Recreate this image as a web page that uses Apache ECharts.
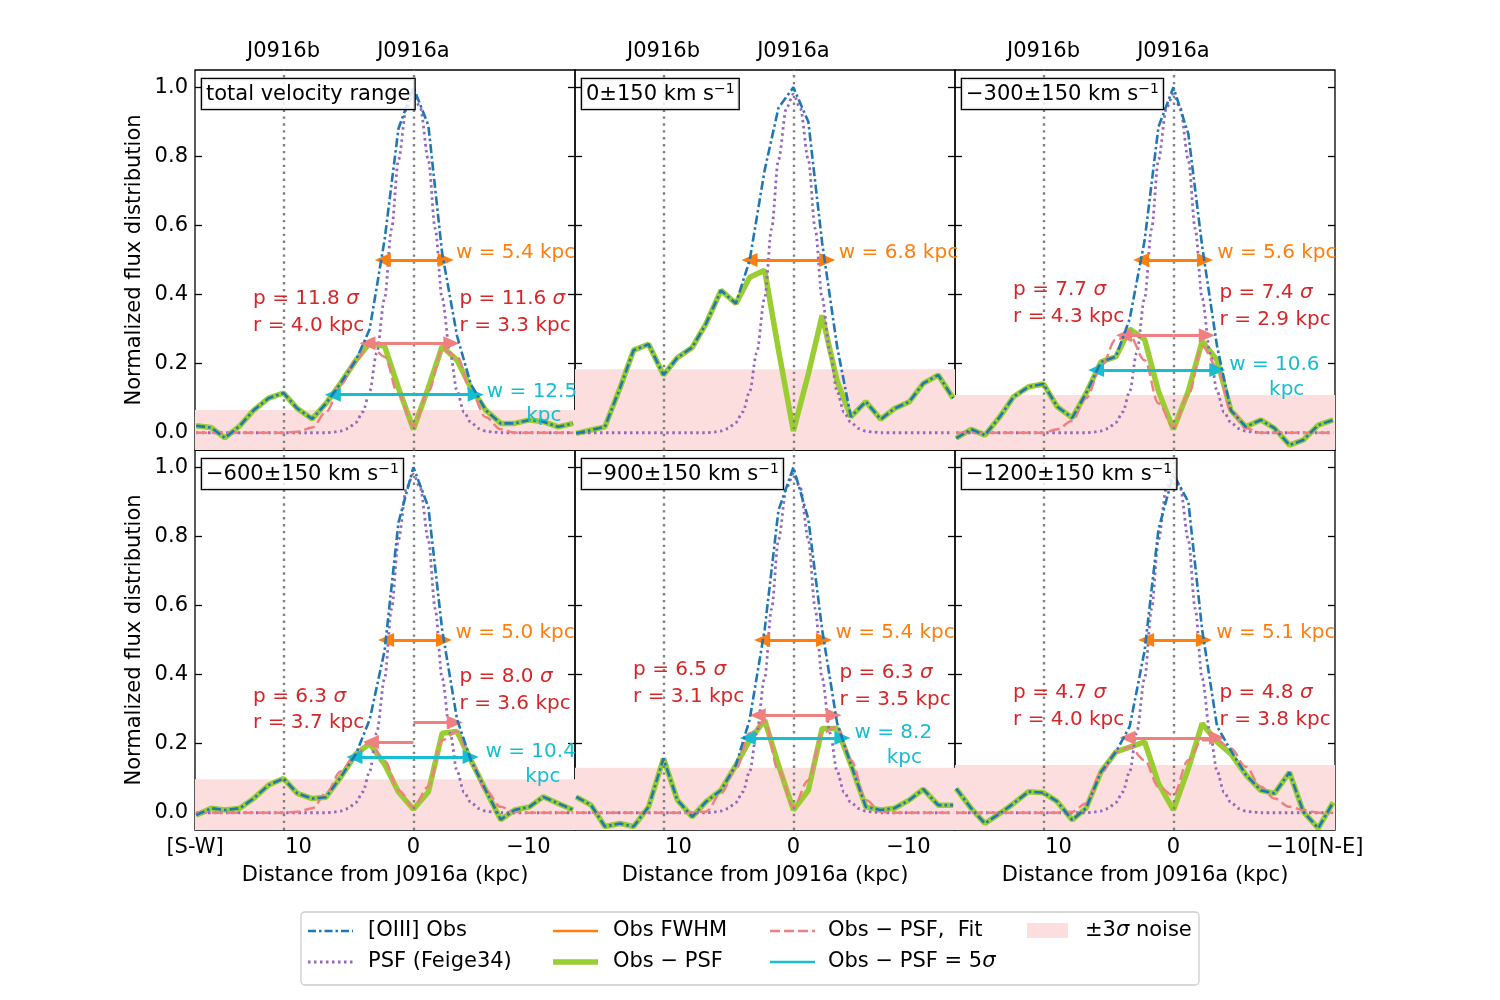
<!DOCTYPE html>
<html>
<head>
<meta charset="utf-8">
<script src="https://cdn.jsdelivr.net/npm/echarts@6/dist/echarts.min.js"></script>
<style>
html, body { margin: 0; padding: 0; background: #fff; }
#chart { width: 1500px; height: 1000px; }
</style>
</head>
<body>
<div id="chart"></div>
<script>
// sample positions along the slit (kpc from J0916a, S-W positive)
const xKpc = [18.9, 17.6, 16.4, 15.1, 13.9, 12.6, 11.3, 10.1, 8.8, 7.6, 6.3, 5.0, 3.8, 2.5, 1.3, 0,
  -1.3, -2.5, -3.8, -5.0, -6.3, -7.6, -8.8, -10.1, -11.3, -12.6, -13.9];

// PSF (Feige34), shared by all panels
const psfX = [18.9, 7.6, 6.9, 6.3, 5.7, 5.0, 4.4, 3.8, 3.2, 2.5, 1.9, 1.3, 0.6, 0, -0.6, -1.3, -1.9,
  -2.5, -3.2, -3.8, -4.4, -5.0, -5.7, -6.3, -6.9, -7.6, -13.9];
const psfY = [0, 0, 0.002, 0.005, 0.012, 0.03, 0.06, 0.12, 0.23, 0.39, 0.59, 0.79, 0.94, 0.98, 0.94,
  0.79, 0.59, 0.39, 0.23, 0.12, 0.06, 0.03, 0.012, 0.005, 0.002, 0, 0];

// [OIII] observed profiles
const obsTotal = [0.02, 0.015, -0.015, 0.02, 0.065, 0.10, 0.115, 0.07, 0.04, 0.085, 0.145, 0.21, 0.30, 0.56, 0.88, 1.0, 0.89, 0.52, 0.28, 0.14, 0.065, 0.027, 0.027, 0.037, 0.032, 0.017, 0.027];
const obsV0 = [-0.002, 0.008, 0.017, 0.128, 0.239, 0.256, 0.167, 0.217, 0.247, 0.316, 0.412, 0.374, 0.50, 0.76, 0.94, 1.0, 0.90, 0.55, 0.25, 0.046, 0.09, 0.039, 0.07, 0.09, 0.143, 0.167, 0.10];
const obsV300 = [-0.016, 0.01, -0.007, 0.046, 0.104, 0.133, 0.141, 0.075, 0.043, 0.114, 0.205, 0.22, 0.33, 0.557, 0.885, 1.0, 0.865, 0.54, 0.25, 0.065, 0.017, 0.037, 0.013, -0.036, -0.021, 0.022, 0.037];
const obsV600 = [-0.007, 0.013, 0.008, 0.013, 0.041, 0.08, 0.099, 0.056, 0.041, 0.045, 0.104, 0.17, 0.27, 0.47, 0.84, 1.0, 0.885, 0.53, 0.27, 0.152, 0.065, -0.02, 0.008, 0.017, 0.046, 0.027, 0.008];
const obsV900 = [0.046, 0.022, -0.04, -0.031, -0.04, 0.017, 0.157, 0.037, -0.012, 0.032, 0.065, 0.138, 0.27, 0.53, 0.875, 1.0, 0.85, 0.53, 0.26, 0.14, 0.017, 0.008, 0.013, 0.037, 0.068, 0.022, 0.022];
const obsV1200 = [0.07, 0.013, -0.031, -0.002, 0.027, 0.061, 0.058, 0.032, -0.021, 0.013, 0.118, 0.176, 0.25, 0.47, 0.82, 0.98, 0.90, 0.53, 0.25, 0.18, 0.11, 0.065, 0.056, 0.117, 0.003, -0.045, 0.03];

// Obs - PSF residuals
const resTotal = [0.02, 0.015, -0.015, 0.02, 0.065, 0.10, 0.115, 0.07, 0.04, 0.085, 0.145, 0.21, 0.26, 0.25, 0.13, 0.01, 0.13, 0.25, 0.21, 0.13, 0.065, 0.027, 0.027, 0.037, 0.032, 0.017, 0.027];
const resV0 = [-0.002, 0.008, 0.017, 0.128, 0.239, 0.256, 0.167, 0.217, 0.247, 0.316, 0.412, 0.374, 0.45, 0.47, 0.24, 0.005, 0.17, 0.34, 0.15, 0.046, 0.09, 0.039, 0.07, 0.09, 0.143, 0.167, 0.10];
const resV300 = [-0.016, 0.01, -0.007, 0.046, 0.104, 0.133, 0.141, 0.075, 0.043, 0.114, 0.205, 0.22, 0.30, 0.27, 0.12, 0.01, 0.12, 0.265, 0.21, 0.065, 0.017, 0.037, 0.013, -0.036, -0.021, 0.022, 0.037];
const resV600 = [-0.007, 0.013, 0.008, 0.013, 0.041, 0.08, 0.099, 0.056, 0.041, 0.045, 0.104, 0.17, 0.20, 0.14, 0.06, 0.01, 0.06, 0.23, 0.235, 0.152, 0.065, -0.02, 0.008, 0.017, 0.046, 0.027, 0.008];
const resV900 = [0.046, 0.022, -0.04, -0.031, -0.04, 0.017, 0.157, 0.037, -0.012, 0.032, 0.065, 0.138, 0.21, 0.268, 0.138, 0.008, 0.065, 0.244, 0.244, 0.14, 0.017, 0.008, 0.013, 0.037, 0.068, 0.022, 0.022];
const resV1200 = [0.07, 0.013, -0.031, -0.002, 0.027, 0.061, 0.058, 0.032, -0.021, 0.013, 0.118, 0.176, 0.19, 0.205, 0.085, 0.008, 0.128, 0.258, 0.205, 0.17, 0.11, 0.065, 0.056, 0.117, 0.003, -0.045, 0.03];

// two-component fits to Obs - PSF
const fitTotal = [0, 0, 0, 0, 0, 0, 0, 0.003, 0.015, 0.06, 0.14, 0.21, 0.255, 0.22, 0.11, 0.02, 0.12, 0.24, 0.22, 0.12, 0.045, 0.01, 0, 0, 0, 0, 0];
const fitV300 = [0, 0, 0, 0, 0, 0, 0, 0.01, 0.035, 0.10, 0.19, 0.27, 0.28, 0.21, 0.085, 0.017, 0.11, 0.25, 0.19, 0.065, 0.013, 0, 0, 0, 0, 0, 0];
const fitV600 = [0, 0, 0, 0, 0, 0, 0, 0.003, 0.013, 0.056, 0.12, 0.17, 0.205, 0.15, 0.065, 0.017, 0.075, 0.21, 0.235, 0.15, 0.065, 0.017, 0.003, 0, 0, 0, 0];
const fitV900 = [0, 0, 0, 0, 0, 0, 0, 0, 0, 0.003, 0.056, 0.128, 0.23, 0.263, 0.123, 0.017, 0.094, 0.23, 0.25, 0.152, 0.037, 0.003, 0, 0, 0, 0, 0];
const fitV1200 = [0, 0, 0, 0, 0, 0, 0, 0, 0.003, 0.027, 0.114, 0.176, 0.19, 0.152, 0.075, 0.05, 0.152, 0.21, 0.21, 0.186, 0.133, 0.075, 0.041, 0.017, 0.008, 0, 0];

const obsAll = [obsTotal, obsV0, obsV300, obsV600, obsV900, obsV1200];
const resAll = [resTotal, resV0, resV300, resV600, resV900, resV1200];
const fitAll = [fitTotal, null, fitV300, fitV600, fitV900, fitV1200];

// panel titles
const velMain = ['total velocity range', '0±150 km s', '−300±150 km s', '−600±150 km s', '−900±150 km s', '−1200±150 km s'];
const velSup = ['', '−1', '−1', '−1', '−1', '−1'];

// 3 sigma noise level
const noise3 = [0.066, 0.184, 0.109, 0.097, 0.130, 0.138];

// Obs FWHM: half-maximum crossings and width
const fwhmLeft = [2.66, 3.82, 2.81, 2.37, 2.72, 2.37];
const fwhmRight = [-2.81, -2.95, -2.75, -2.66, -2.66, -2.66];
const fwhmW = ['5.4', '6.8', '5.6', '5.0', '5.4', '5.1'];

// fitted components: significance, offset, peak height
const pSigL = ['11.8', null, '7.7', '6.3', '6.5', '4.7'];
const rKpcL = [4.0, null, 4.3, 3.7, 3.1, 4.0];
const peakL = [0.259, null, 0.282, 0.205, 0.282, 0.217];
const pSigR = ['11.6', null, '7.4', '8.0', '6.3', '4.8'];
const rKpcR = [3.3, null, 2.9, 3.6, 3.5, 3.8];
const peakR = [0.259, null, 0.282, 0.261, 0.282, 0.217];

// Obs - PSF = 5 sigma extent
const w5Left = [7.01, null, 6.72, 5.13, 3.97, null];
const w5Right = [-5.42, null, -3.82, -4.98, -4.26, null];
const w5Text = ['12.5', null, '10.6', '10.4', '8.2', null];

// galaxies
const galPos = [11.3, 0];
const galNames = ['J0916b', 'J0916a'];

const xTicks = [10, 0, -10];
const yTicks = [0, 0.2, 0.4, 0.6, 0.8, 1.0];

// ---- label placement (data coords) ----
const wTxtX = [-3.75, -4.0, -3.86, -3.71, -3.71, -3.77];
const pTxtYL = [0.385, null, 0.412, 0.335, 0.412, 0.345];
const pTxtYR = [0.385, null, 0.403, 0.391, 0.403, 0.345];
const cyanTxt = [[-6.43, 0.118, -11.4, 0.048], null, [-4.9, 0.196, -9.9, 0.123],
  [-6.32, 0.174, -11.3, 0.102], [-5.36, 0.229, -9.7, 0.157], null];

const FONT = 'DejaVu Sans';
const FS = 21, FS_ANN = 20;
const BLUE = '#1f77b4', PURPLE = '#9467bd', ORANGE = '#ff7f0e', GREEN = '#9acd32',
  CORAL = '#f08080', CYAN = '#17becf', RED = '#d62728', BAND = '#fddede', GRAY = '#808080';
const X_MIN = -14.06, X_MAX = 19.0, Y_MIN = -0.05, Y_MAX = 1.05;
const colLeft = [195, 575, 955], rowTop = [70, 450], PW = 380, PH = 380;

const pts = (xs, ys) => xs.map((x, i) => [x, ys[i]]);
const minus = v => (v < 0 ? '−' + Math.abs(v) : String(v));
const txt = { color: '#000', fontFamily: FONT, fontSize: FS };

const grid = [], xAxis = [], yAxis = [], series = [], graphic = [];

for (let p = 0; p < 6; p++) {
  const col = p % 3, row = Math.floor(p / 3);
  grid.push({ left: colLeft[col], top: rowTop[row], width: PW, height: PH,
    show: true, borderColor: '#000', borderWidth: 1.3, backgroundColor: 'transparent' });

  let labVals = xTicks.slice();
  if (p === 3) labVals = [X_MAX].concat(labVals);
  xAxis[p] = {
    gridIndex: p, type: 'value', min: X_MIN, max: X_MAX, inverse: true, position: 'bottom',
    axisLine: { show: false, onZero: false }, splitLine: { show: false },
    axisTick: { inside: true, length: 7, customValues: xTicks, lineStyle: { color: '#000', width: 1.3 } },
    axisLabel: { show: row === 1, customValues: labVals, margin: 7, showMinLabel: true, showMaxLabel: true, ...txt,
      rich: { sp: { color: 'rgba(0,0,0,0)', fontFamily: FONT, fontSize: FS } },
      formatter: v => {
        if (v === X_MAX) return '[S-W]';
        // far right panel: "[N-E]" sits right after "-10", keep "-10" centred on its tick
        if (p === 5 && v === -10) return '{sp|[N-E]}' + minus(v) + '[N-E]';
        return minus(v);
      } },
    name: row === 1 ? 'Distance from J0916a (kpc)' : '', nameLocation: 'middle', nameGap: 35,
    nameTextStyle: txt
  };
  yAxis.push({
    gridIndex: p, type: 'value', min: Y_MIN, max: Y_MAX, position: 'left',
    axisLine: { show: false, onZero: false }, splitLine: { show: false },
    axisTick: { inside: true, length: 7, customValues: yTicks, lineStyle: { color: '#000', width: 1.3 } },
    axisLabel: { show: col === 0, customValues: yTicks, margin: 7, ...txt, formatter: v => v.toFixed(1) },
    name: col === 0 ? 'Normalized flux distribution' : '', nameLocation: 'middle', nameGap: 50,
    nameRotate: 90, nameTextStyle: txt
  });
  yAxis.push({
    gridIndex: p, type: 'value', min: Y_MIN, max: Y_MAX, position: 'right',
    axisLine: { show: false, onZero: false }, splitLine: { show: false },
    axisTick: { inside: true, length: 7, customValues: yTicks, lineStyle: { color: '#000', width: 1.3 } },
    axisLabel: { show: false }
  });

  const base = { xAxisIndex: p, yAxisIndex: 2 * p, silent: true };

  // +-3 sigma noise band
  series.push({ ...base, type: 'line', symbol: 'none', z: 1, data: [[X_MIN, noise3[p]], [X_MAX, noise3[p]]],
    lineStyle: { width: 0 }, areaStyle: { color: BAND, opacity: 1, origin: 'start' } });
  // Obs - PSF
  series.push({ ...base, type: 'line', symbol: 'none', z: 2, data: pts(xKpc, resAll[p]),
    lineStyle: { color: GREEN, width: 5.5 } });
  // PSF + galaxy positions
  series.push({ ...base, type: 'line', symbol: 'none', z: 3, data: pts(psfX, psfY), smooth: 0.3, smoothMonotone: 'x',
    lineStyle: { color: PURPLE, width: 2.8, type: [2.5, 3.5] },
    markLine: { silent: true, symbol: 'none', label: { show: false },
      lineStyle: { color: GRAY, width: 2.4, type: [2.4, 4.5] },
      data: galPos.map(g => ({ xAxis: g })) } });
  // fit
  if (fitAll[p]) {
    series.push({ ...base, type: 'line', symbol: 'none', z: 4, data: pts(xKpc, fitAll[p]), smooth: 0.35, smoothMonotone: 'x',
      lineStyle: { color: CORAL, width: 2.5, type: [11, 4.5] } });
  }
  // observed
  series.push({ ...base, type: 'line', symbol: 'none', z: 5, data: pts(xKpc, obsAll[p]),
    lineStyle: { color: BLUE, width: 2.6, type: [9, 3, 2.5, 3] } });

  // annotations: arrows and texts
  const arrows = [];
  const tri = { symbol: 'triangle' };
  arrows.push([{ coord: [fwhmLeft[p], 0.5], ...tri, lineStyle: { color: ORANGE } },
    { coord: [fwhmRight[p], 0.5], ...tri }]);
  const labels = [];
  labels.push({ value: [wTxtX[p], 0.52], label: { formatter: 'w = ' + fwhmW[p] + ' kpc', color: ORANGE, align: 'left' } });
  if (pSigL[p]) {
    arrows.push([{ coord: [0, peakL[p]], symbol: 'none', lineStyle: { color: CORAL } },
      { coord: [rKpcL[p], peakL[p]], ...tri }]);
    arrows.push([{ coord: [0, peakR[p]], symbol: 'none', lineStyle: { color: CORAL } },
      { coord: [-rKpcR[p], peakR[p]], ...tri }]);
    labels.push({ value: [13.9, pTxtYL[p]], label: { formatter: 'p = ' + pSigL[p] + ' {i|σ}', color: RED, align: 'left' } });
    labels.push({ value: [13.9, pTxtYL[p] - 0.077], label: { formatter: 'r = ' + rKpcL[p].toFixed(1) + ' kpc', color: RED, align: 'left' } });
    labels.push({ value: [-4.06, pTxtYR[p]], label: { formatter: 'p = ' + pSigR[p] + ' {i|σ}', color: RED, align: 'left' } });
    labels.push({ value: [-4.06, pTxtYR[p] - 0.077], label: { formatter: 'r = ' + rKpcR[p].toFixed(1) + ' kpc', color: RED, align: 'left' } });
  }
  if (w5Text[p]) {
    const y5 = noise3[p] * 5 / 3;
    arrows.push([{ coord: [w5Left[p], y5], ...tri, lineStyle: { color: CYAN } },
      { coord: [w5Right[p], y5], ...tri }]);
    const c = cyanTxt[p];
    labels.push({ value: [c[0], c[1]], label: { formatter: 'w = ' + w5Text[p], color: CYAN, align: 'left' } });
    labels.push({ value: [c[2], c[3]], label: { formatter: 'kpc', color: CYAN, align: 'center' } });
  }
  series.push({ ...base, type: 'scatter', symbol: 'circle', z: 6, symbolSize: 1,
    itemStyle: { color: 'rgba(0,0,0,0)', opacity: 1 }, clip: false,
    data: labels,
    label: { show: true, position: [0, 0], verticalAlign: 'middle', fontFamily: FONT, fontSize: FS_ANN,
      opacity: 1, textBorderWidth: 0,
      rich: { i: { fontStyle: 'italic', fontFamily: FONT, fontSize: FS_ANN } } },
    markLine: { silent: true, symbolSize: [14, 16], label: { show: false },
      lineStyle: { width: 2.8, type: 'solid' }, data: arrows } });

  // velocity-range box
  graphic.push({ type: 'text', x: colLeft[col] + 7, y: rowTop[row] + 9, z: 100,
    style: {
      text: '{m|' + velMain[p] + '}' + (velSup[p] ? '{s|' + velSup[p] + '}' : ''),
      rich: { m: { fontFamily: FONT, fontSize: FS, lineHeight: 25, fill: '#000' },
        s: { fontFamily: FONT, fontSize: 14, lineHeight: 15, verticalAlign: 'top', fill: '#000' } },
      backgroundColor: 'rgba(255,255,255,0.85)', borderColor: '#000', borderWidth: 1.3,
      padding: [3, 4, 2, 4]
    } });
}

// galaxy names along the top of the upper row
for (let p = 0; p < 3; p++) {
  xAxis.push({ gridIndex: p, type: 'value', min: X_MIN, max: X_MAX, inverse: true, position: 'top',
    axisLine: { show: false, onZero: false }, splitLine: { show: false }, axisTick: { show: false },
    axisLabel: { customValues: galPos, margin: 8, ...txt, formatter: v => galNames[galPos.indexOf(v)] } });
}

// legend
const legX = [308, 553, 770, 1027], legTxtX = [368, 613, 828, 1085], legY = [931, 962];
const legItems = [
  { c: 0, r: 0, text: '[OIII] Obs', stroke: BLUE, w: 2.5, dash: [8, 3, 2.5, 3] },
  { c: 0, r: 1, text: 'PSF (Feige34)', stroke: PURPLE, w: 2.8, dash: [2.5, 3.5] },
  { c: 1, r: 0, text: 'Obs FWHM', stroke: ORANGE, w: 2.5, dash: null },
  { c: 1, r: 1, text: 'Obs − PSF', stroke: GREEN, w: 5.5, dash: null },
  { c: 2, r: 0, text: 'Obs − PSF,  Fit', stroke: CORAL, w: 2.5, dash: [10, 4] },
  { c: 2, r: 1, text: 'Obs − PSF = 5{i|σ}', stroke: CYAN, w: 2.5, dash: null },
  { c: 3, r: 0, text: '±3{i|σ} noise', patch: BAND }
];
graphic.push({ type: 'rect', z: 90, shape: { x: 301, y: 912, width: 898, height: 73, r: 4 },
  style: { fill: '#fff', stroke: '#cccccc', lineWidth: 1.3 } });
legItems.forEach(it => {
  const y = legY[it.r];
  if (it.patch) {
    graphic.push({ type: 'rect', z: 91, shape: { x: legX[it.c], y: y - 8, width: 41, height: 15 },
      style: { fill: it.patch } });
  } else {
    graphic.push({ type: 'line', z: 91, shape: { x1: legX[it.c], y1: y, x2: legX[it.c] + 45, y2: y },
      style: { stroke: it.stroke, lineWidth: it.w, lineDash: it.dash || null } });
  }
  graphic.push({ type: 'text', z: 91, x: legTxtX[it.c], y: y,
    style: { text: it.text, fontFamily: FONT, fontSize: FS, fill: '#000', verticalAlign: 'middle',
      rich: { i: { fontStyle: 'italic', fontFamily: FONT, fontSize: FS, fill: '#000' } } } });
});

const chart = echarts.init(document.getElementById('chart'));
chart.setOption({
  animation: false,
  backgroundColor: '#fff',
  textStyle: { fontFamily: FONT },
  grid, xAxis, yAxis, series, graphic
});
</script>
</body>
</html>
